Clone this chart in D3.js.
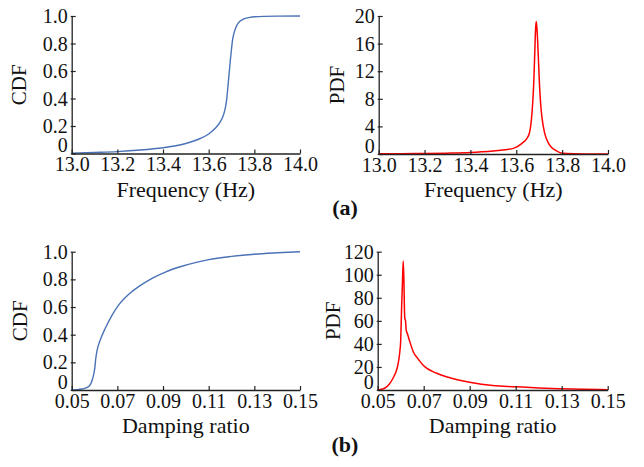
<!DOCTYPE html>
<html>
<head>
<meta charset="utf-8">
<script src="https://cdn.jsdelivr.net/npm/d3@7"></script>
<style>
  html, body { margin: 0; padding: 0; background: #fff; }
  svg { display: block; }
  text { font-family: "Liberation Serif", "Times New Roman", serif; fill: #111; }
</style>
</head>
<body>
<svg id="chart" width="644" height="467"></svg>
<script>
// (a) Frequency distribution
const freqTicks = [13.0, 13.2, 13.4, 13.6, 13.8, 14.0];
const freqTickLabels = ["13.0", "13.2", "13.4", "13.6", "13.8", "14.0"];
const freqCdfX = [13.0, 13.1, 13.2, 13.3, 13.4, 13.45, 13.5, 13.55, 13.6, 13.63, 13.65, 13.66, 13.67, 13.675, 13.68, 13.685, 13.69, 13.695, 13.70, 13.705, 13.71, 13.72, 13.73, 13.75, 13.78, 13.8, 13.9, 14.0];
const freqCdfY = [0.003, 0.008, 0.014, 0.025, 0.042, 0.055, 0.073, 0.100, 0.142, 0.185, 0.228, 0.260, 0.310, 0.350, 0.410, 0.500, 0.590, 0.680, 0.760, 0.830, 0.870, 0.920, 0.950, 0.975, 0.990, 0.995, 0.999, 1.0];
const freqPdfX = [13.0, 13.1, 13.2, 13.3, 13.4, 13.45, 13.5, 13.55, 13.59, 13.625, 13.645, 13.657, 13.666, 13.672, 13.676, 13.680, 13.684, 13.687, 13.690, 13.695, 13.701, 13.706, 13.712, 13.724, 13.741, 13.755, 13.770, 13.79, 13.8, 13.85, 13.9, 14.0];
const freqPdfY = [0.02, 0.04, 0.07, 0.12, 0.22, 0.32, 0.45, 0.62, 0.85, 1.55, 2.2, 3.0, 5.0, 7.6, 10.2, 14.0, 18.0, 19.2, 18.3, 15.0, 10.2, 7.4, 5.3, 3.0, 1.55, 0.9, 0.55, 0.2, 0.12, 0.03, 0.01, 0.0];
const cdfTicks = [0, 0.2, 0.4, 0.6, 0.8, 1.0];
const cdfTickLabels = ["0", "0.2", "0.4", "0.6", "0.8", "1.0"];
const freqPdfTicks = [0, 4, 8, 12, 16, 20];
const freqPdfTickLabels = ["0", "4", "8", "12", "16", "20"];

// (b) Damping ratio distribution
const dampTicks = [0.05, 0.07, 0.09, 0.11, 0.13, 0.15];
const dampTickLabels = ["0.05", "0.07", "0.09", "0.11", "0.13", "0.15"];
const dampCdfX = [0.05, 0.052, 0.0545, 0.0574, 0.0592, 0.0601, 0.0606, 0.0611, 0.0625, 0.0647, 0.0677, 0.0706, 0.075, 0.0793, 0.0852, 0.091, 0.0983, 0.105, 0.11, 0.12, 0.13, 0.14, 0.15];
const dampCdfY = [0.0, 0.002, 0.007, 0.024, 0.085, 0.157, 0.235, 0.285, 0.361, 0.446, 0.542, 0.615, 0.692, 0.747, 0.807, 0.853, 0.895, 0.925, 0.943, 0.966, 0.982, 0.992, 1.0];
const dampPdfX = [0.05, 0.052, 0.053, 0.055, 0.057, 0.058, 0.059, 0.0596, 0.0600, 0.0604, 0.0608, 0.0611, 0.0614, 0.0616, 0.0618, 0.0621, 0.0624, 0.0629, 0.0638, 0.0655, 0.0677, 0.07, 0.0757, 0.0807, 0.09, 0.10, 0.11, 0.12, 0.13, 0.14, 0.15];
const dampPdfY = [0, 0.8, 1.5, 5, 11.5, 16, 24, 33, 43, 72, 96, 112, 95, 72, 62, 60, 52, 49, 43, 33, 26.6, 21, 14.5, 11, 6.7, 3.8, 2.8, 1.8, 1.1, 0.6, 0.3];
const dampPdfTicks = [0, 20, 40, 60, 80, 100, 120];
const dampPdfTickLabels = ["0", "20", "40", "60", "80", "100", "120"];

const BLUE = "#4a72b6";
const RED = "#ff0000";
const AXIS = "#222";

const svg = d3.select("#chart");

const panels = [
  { xs: freqCdfX, ys: freqCdfY, xDom: [13.0, 14.0], yDom: [0, 1], xTicks: freqTicks, xLabels: freqTickLabels,
    yTicks: cdfTicks, yLabels: cdfTickLabels, xTitle: "Frequency (Hz)", yTitle: "CDF",
    xr: [71.7, 300], yr: [153.5, 16], color: BLUE, width: 1.4, curve: d3.curveMonotoneX, yTitleX: 26 },
  { xs: freqPdfX, ys: freqPdfY, xDom: [13.0, 14.0], yDom: [0, 20], xTicks: freqTicks, xLabels: freqTickLabels,
    yTicks: freqPdfTicks, yLabels: freqPdfTickLabels, xTitle: "Frequency (Hz)", yTitle: "PDF",
    xr: [378.7, 608], yr: [154, 16], color: RED, width: 1.5, curve: d3.curveMonotoneX, yTitleX: 344 },
  { xs: dampCdfX, ys: dampCdfY, xDom: [0.05, 0.15], yDom: [0, 1], xTicks: dampTicks, xLabels: dampTickLabels,
    yTicks: cdfTicks, yLabels: cdfTickLabels, xTitle: "Damping ratio", yTitle: "CDF",
    xr: [71.7, 300], yr: [390, 251.7], color: BLUE, width: 1.4, curve: d3.curveMonotoneX, yTitleX: 27 },
  { xs: dampPdfX, ys: dampPdfY, xDom: [0.05, 0.15], yDom: [0, 120], xTicks: dampTicks, xLabels: dampTickLabels,
    yTicks: dampPdfTicks, yLabels: dampPdfTickLabels, xTitle: "Damping ratio", yTitle: "PDF",
    xr: [377.7, 607.7], yr: [390, 251.7], color: RED, width: 1.5, curve: d3.curveMonotoneX, yTitleX: 340 }
];

panels.forEach(p => {
  const x = d3.scaleLinear().domain(p.xDom).range(p.xr);
  const y = d3.scaleLinear().domain(p.yDom).range(p.yr);
  const g = svg.append("g");

  // distribution curve
  const pts = p.xs.map((v, i) => [v, p.ys[i]]);
  g.append("path")
    .datum(pts)
    .attr("fill", "none")
    .attr("stroke", p.color)
    .attr("stroke-width", p.width)
    .attr("stroke-linejoin", "round")
    .attr("d", d3.line().x(d => x(d[0])).y(d => y(d[1])).curve(p.curve));

  // x axis with short inward ticks
  const xAxis = d3.axisBottom(x)
    .tickValues(p.xTicks)
    .tickFormat((d, i) => p.xLabels[i])
    .tickSizeInner(-4)
    .tickSizeOuter(0)
    .tickPadding(8);
  const gx = g.append("g").attr("transform", `translate(0,${p.yr[0]})`).call(xAxis);
  gx.select(".domain").attr("stroke", AXIS).attr("stroke-width", 1.3);
  gx.selectAll(".tick line").attr("stroke", AXIS).attr("stroke-width", 1.2);
  gx.selectAll(".tick text")
    .attr("font-size", 20)
    .attr("fill", "#111")
    .attr("dy", null)
    .attr("y", 17.5)
    .style("font-family", "'Liberation Serif', 'Times New Roman', serif");

  // y axis; the zero label sits a little higher
  const yAxis = d3.axisLeft(y)
    .tickValues(p.yTicks)
    .tickFormat((d, i) => p.yLabels[i])
    .tickSizeInner(2)
    .tickSizeOuter(0)
    .tickPadding(5);
  const gy = g.append("g").attr("transform", `translate(${p.xr[0]},0)`).call(yAxis);
  gy.select(".domain").attr("stroke", AXIS).attr("stroke-width", 1.3);
  gy.selectAll(".tick line").attr("x1", 4).attr("x2", -1).attr("stroke", AXIS).attr("stroke-width", 1.2);
  gy.selectAll(".tick text")
    .attr("font-size", 20)
    .attr("fill", "#111")
    .attr("x", -4)
    .attr("dy", null)
    .attr("y", (d, i) => i === 0 ? -2 : 6.5)
    .style("font-family", "'Liberation Serif', 'Times New Roman', serif");

  // axis titles
  g.append("text")
    .attr("x", (p.xr[0] + p.xr[1]) / 2)
    .attr("y", p.yr[0] + 43)
    .attr("text-anchor", "middle")
    .attr("font-size", 22)
    .text(p.xTitle);

  g.append("text")
    .attr("transform", `translate(${p.yTitleX},${(p.yr[0] + p.yr[1]) / 2}) rotate(-90)`)
    .attr("text-anchor", "middle")
    .attr("font-size", 21)
    .text(p.yTitle);
});

// panel captions
svg.append("text").attr("x", 345).attr("y", 215).attr("text-anchor", "middle")
  .attr("font-size", 22).attr("font-weight", "bold").text("(a)");
svg.append("text").attr("x", 345).attr("y", 452).attr("text-anchor", "middle")
  .attr("font-size", 22).attr("font-weight", "bold").text("(b)");
</script>
</body>
</html>
